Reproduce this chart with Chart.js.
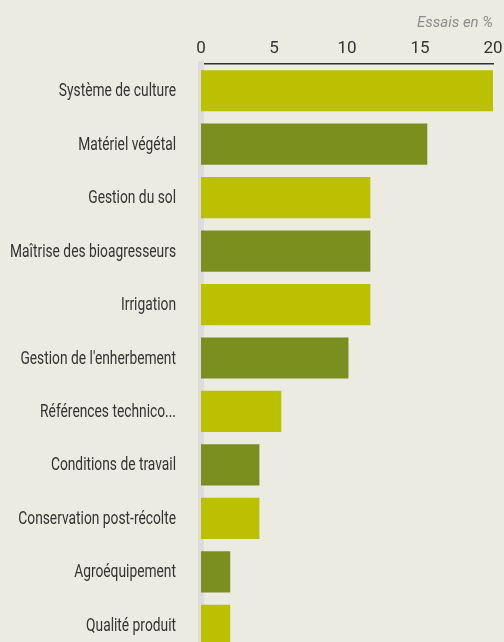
<!DOCTYPE html>
<html>
<head>
<meta charset="utf-8">
<script src="https://cdn.jsdelivr.net/npm/chart.js@4"></script>
<style>
  html, body { margin: 0; padding: 0; background: #ebebe1; overflow: hidden; }
  canvas { display: block; }
</style>
</head>
<body>
<canvas id="myChart" width="504" height="652"></canvas>
<script>
// data
var categories = [
  "Système de culture", "Matériel végétal", "Gestion du sol",
  "Maîtrise des bioagresseurs", "Irrigation", "Gestion de l'enherbement",
  "Références technico...", "Conditions de travail",
  "Conservation post-récolte", "Agroéquipement", "Qualité produit"
];
var essais = [20, 15.5, 11.6, 11.6, 11.6, 10.1, 5.5, 4, 4, 2, 2];
var xTicks = [0, 5, 10, 15, 20];

var lightGreen = "#bbc000";
var darkGreen = "#7b8f1e";
var barColors = categories.map(function(c, i) { return i % 2 === 0 ? lightGreen : darkGreen; });

var font = "Roboto, 'Liberation Sans', sans-serif";

// the y labels use a narrow face in the original: draw them squeezed along the category scale
var narrowLabels = {
  id: "narrowLabels",
  afterDraw: function(chart) {
    var c = chart.ctx;
    var yScale = chart.scales.y;
    c.save();
    c.font = "18px " + font;
    c.fillStyle = "#333333";
    c.textAlign = "right";
    c.textBaseline = "middle";
    var widest = Math.max.apply(null, categories.map(function(t) { return c.measureText(t).width; }));
    var squeeze = 166 / widest;
    categories.forEach(function(label, i) {
      c.save();
      c.translate(yScale.right - 25, yScale.getPixelForValue(i) + 1);
      c.scale(squeeze, 1);
      c.fillText(label, 0, 0);
      c.restore();
    });
    c.restore();
  }
};

var ctx = document.getElementById("myChart").getContext("2d");
var chart = new Chart(ctx, {
  type: "bar",
  data: {
    labels: categories,
    datasets: [{
      data: essais,
      backgroundColor: barColors,
      borderWidth: 0,
      barPercentage: 0.77,
      categoryPercentage: 1
    }]
  },
  options: {
    indexAxis: "y",
    responsive: false,
    animation: false,
    layout: { padding: { top: 0, right: 11, bottom: 0, left: 0 } },
    plugins: { legend: { display: false }, tooltip: { enabled: false } },
    scales: {
      x: {
        position: "top",
        min: 0,
        max: 20,
        afterBuildTicks: function(scale) {
          scale.ticks = xTicks.map(function(v) { return { value: v }; });
        },
        afterFit: function(scale) {
          scale.height = 64;
          scale.paddingLeft = 0;
          scale.paddingRight = 0;
        },
        grid: { display: false, drawTicks: false },
        border: { display: true, color: "#333333", width: 1.5 },
        ticks: {
          color: "#333333",
          padding: 5,
          maxRotation: 0,
          font: { family: font, size: 17 }
        },
        title: {
          display: true,
          text: "Essais en %",
          align: "end",
          color: "#8c8c8c",
          padding: { top: 14, bottom: 0 },
          font: { family: font, size: 15, style: "italic" }
        }
      },
      y: {
        afterFit: function(scale) {
          scale.width = 201;
          scale.paddingTop = 0;
          scale.paddingBottom = 0;
        },
        grid: { display: false, drawTicks: false },
        border: { display: true, color: "#dcdcdc", width: 6 },
        ticks: { display: false }
      }
    }
  },
  plugins: [narrowLabels]
});
</script>
</body>
</html>
